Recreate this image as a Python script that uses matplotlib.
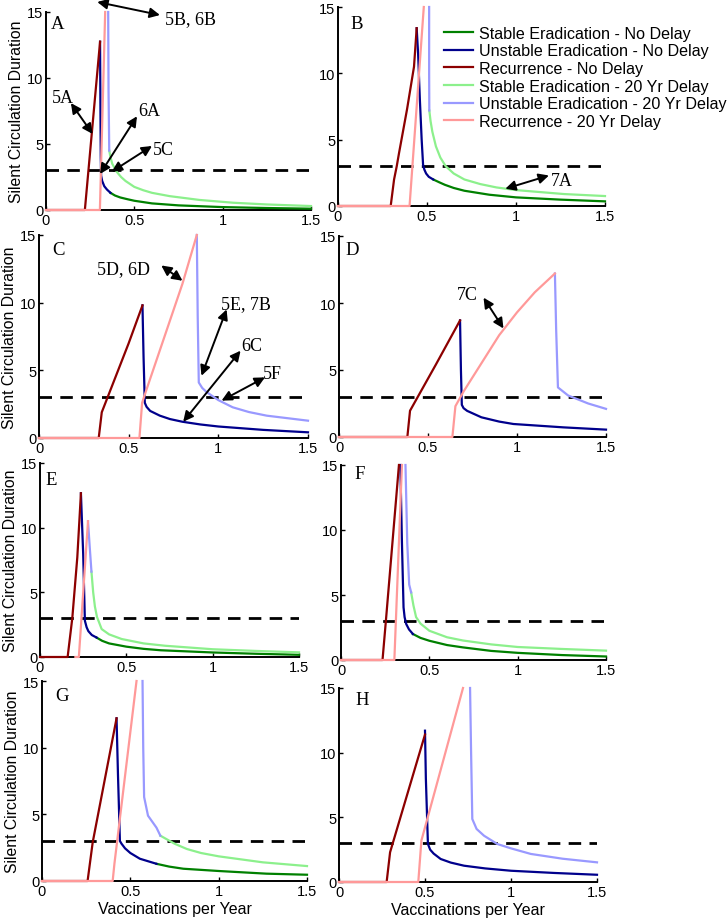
import matplotlib.pyplot as plt

# x = vaccinations per year, y = silent circulation duration
# suffix: sn/un/rn = stable/unstable/recurrence, no delay; sd/ud/rd = same, 20 yr delay
a_rn = [(0, 0), (0.22, 0), (0.306, 12.75)]
a_un = [(0.306, 12.75), (0.308, 8), (0.31, 4), (0.312, 2.6), (0.318, 2.2), (0.33, 1.8), (0.345, 1.55), (0.365, 1.3)]
a_sn = [(0.365, 1.3), (0.39, 1.1), (0.42, 0.95), (0.46, 0.82), (0.5, 0.7), (0.6, 0.5), (0.75, 0.35),
        (1.0, 0.22), (1.25, 0.15), (1.5, 0.1)]
a_rd = [(0, 0), (0.305, 0), (0.335, 15)]
a_ud = [(0.352, 15), (0.354, 9), (0.358, 4.5)]
a_sd = [(0.358, 4.5), (0.365, 4.0), (0.375, 3.5), (0.4, 2.9), (0.425, 2.5), (0.45, 2.2), (0.5, 1.75),
        (0.55, 1.5), (0.6, 1.3), (0.7, 1.05), (0.87, 0.76), (1.06, 0.55), (1.25, 0.42), (1.5, 0.3)]

b_rn = [(0, 0), (0.296, 0), (0.315, 2.0), (0.33, 3.0), (0.343, 4.0), (0.388, 7.3), (0.427, 10.5), (0.442, 13.4)]
b_un = [(0.442, 13.4), (0.45, 11.5), (0.46, 8), (0.47, 5), (0.478, 3.1), (0.485, 2.75), (0.495, 2.45),
        (0.51, 2.2), (0.535, 2.0)]
b_sn = [(0.535, 2.0), (0.57, 1.78), (0.6, 1.6), (0.65, 1.36), (0.71, 1.15), (0.85, 0.85), (1.0, 0.65),
        (1.25, 0.48), (1.5, 0.35)]
b_rd = [(0, 0), (0.402, 0), (0.482, 15)]
b_ud = [(0.512, 15), (0.512, 10), (0.513, 7.2)]
b_sd = [(0.513, 7.2), (0.52, 6.4), (0.53, 5.6), (0.55, 4.5), (0.575, 3.65), (0.605, 3.0), (0.65, 2.45),
        (0.71, 2.0), (0.8, 1.65), (0.89, 1.4), (1.0, 1.2), (1.27, 0.9), (1.5, 0.75)]

c_rn = [(0, 0), (0.333, 0), (0.35, 1.9), (0.45, 5.3), (0.5, 7.0), (0.577, 9.8)]
c_un = [(0.577, 9.8), (0.583, 6), (0.59, 2.6), (0.6, 2.3), (0.62, 2.0), (0.674, 1.65), (0.73, 1.4), (0.8, 1.2),
        (0.9, 1.0), (1.0, 0.85), (1.25, 0.6), (1.5, 0.42)]
c_rd = [(0, 0), (0.56, 0), (0.575, 2.6), (0.6, 3.6), (0.7, 7.5), (0.8, 11.4), (0.88, 15)]
c_ud = [(0.88, 15), (0.885, 9), (0.891, 4.1), (0.91, 3.7), (0.934, 3.4), (1.0, 2.8), (1.08, 2.27),
        (1.17, 1.92), (1.27, 1.65), (1.5, 1.28)]

d_rn = [(0, 0), (0.384, 0), (0.399, 1.96), (0.544, 5.4), (0.68, 8.7)]
d_un = [(0.68, 8.7), (0.685, 5), (0.69, 2.4), (0.7, 2.15), (0.72, 1.95), (0.8, 1.47), (0.9, 1.15),
        (0.98, 0.97), (1.26, 0.72), (1.5, 0.55)]
d_rd = [(0, 0), (0.637, 0), (0.654, 2.3), (0.7, 3.4), (0.8, 5.5), (0.9, 7.6), (1.0, 9.3), (1.1, 10.8),
        (1.213, 12.2)]
d_ud = [(1.213, 12.2), (1.22, 8), (1.23, 3.7), (1.287, 3.1), (1.4, 2.5), (1.5, 2.1)]

e_rn = [(0, 0), (0.16, 0), (0.187, 3), (0.216, 7.7), (0.237, 12.66)]
e_un = [(0.237, 12.66), (0.25, 8), (0.26, 2.8), (0.27, 2.3), (0.28, 2.0), (0.3, 1.7), (0.328, 1.5)]
e_sn = [(0.328, 1.5), (0.36, 1.25), (0.4, 1.05), (0.5, 0.8), (0.6, 0.63), (0.7, 0.52), (1.0, 0.35),
        (1.25, 0.25), (1.5, 0.17)]
e_rd = [(0.205, 0), (0.225, 0), (0.278, 10.5)]
e_ud = [(0.278, 10.5), (0.288, 8.5), (0.298, 6.6)]
e_sd = [(0.298, 6.6), (0.308, 5), (0.318, 3.9), (0.33, 3.1), (0.357, 2.16), (0.4, 1.75), (0.473, 1.39),
        (0.6, 1.05), (0.724, 0.87), (1.0, 0.6), (1.25, 0.47), (1.5, 0.36)]

f_rn = [(0, 0), (0.235, 0), (0.254, 3.0), (0.328, 15)]
f_un = [(0.336, 15), (0.345, 9), (0.354, 4.05), (0.36, 3.3), (0.369, 2.77), (0.385, 2.35), (0.407, 2.0)]
f_sn = [(0.407, 2.0), (0.45, 1.7), (0.5, 1.48), (0.6, 1.15), (0.69, 0.97), (0.85, 0.7), (1.0, 0.55),
        (1.25, 0.38), (1.5, 0.27)]
f_rd = [(0, 0), (0.302, 0), (0.345, 15)]
f_ud = [(0.365, 15), (0.375, 9), (0.386, 5.8), (0.397, 5.2)]
f_sd = [(0.397, 5.2), (0.41, 4.2), (0.425, 3.3), (0.45, 2.8), (0.5, 2.25), (0.6, 1.75), (0.69, 1.5),
        (0.85, 1.2), (1.0, 1.0), (1.25, 0.85), (1.5, 0.72)]

g_rn = [(0, 0), (0.258, 0), (0.287, 2.9), (0.422, 12.2)]
g_un = [(0.422, 12.2), (0.43, 8), (0.441, 3.0), (0.45, 2.8), (0.47, 2.45), (0.5, 2.1), (0.554, 1.67),
        (0.648, 1.29)]
g_sn = [(0.648, 1.29), (0.72, 1.08), (0.8, 0.92), (1.0, 0.75), (1.27, 0.55), (1.5, 0.47)]
g_rd = [(0, 0), (0.4, 0), (0.41, 1.3), (0.535, 15)]
g_ud = [(0.569, 15), (0.573, 10), (0.578, 6.3), (0.6, 4.9), (0.648, 4.0), (0.67, 3.4)]
g_sd = [(0.67, 3.4), (0.75, 2.8), (0.82, 2.4), (0.9, 2.1), (1.0, 1.85), (1.25, 1.4), (1.5, 1.12)]

h_rn = [(0, 0), (0.277, 0), (0.297, 2.3), (0.5, 11.4)]
h_un = [(0.5, 11.7), (0.505, 8), (0.517, 2.94), (0.53, 2.5), (0.55, 2.2), (0.591, 1.78), (0.65, 1.5),
        (0.727, 1.26), (0.85, 1.05), (1.0, 0.87), (1.25, 0.7), (1.5, 0.56)]
h_rd = [(0, 0), (0.461, 0), (0.479, 3.2), (0.721, 15)]
h_ud = [(0.762, 15), (0.768, 10), (0.775, 4.87), (0.8, 4.1), (0.843, 3.58), (0.92, 2.94), (1.0, 2.6),
        (1.115, 2.17), (1.3, 1.8), (1.5, 1.52)]

threshold = 3
series_names = ['Stable Eradication - No Delay', 'Unstable Eradication - No Delay', 'Recurrence - No Delay',
                'Stable Eradication - 20 Yr Delay', 'Unstable Eradication - 20 Yr Delay', 'Recurrence - 20 Yr Delay']
keys = ['sn', 'un', 'rn', 'sd', 'ud', 'rd']
colors = {'sn': '#008000', 'un': '#00008C', 'rn': '#8C0000', 'sd': '#8CF08C', 'ud': '#9999FF', 'rd': '#FF9999'}

# annotations: (label, text xy, arrow from, arrow to)
notes = {
    'A': [('5B, 6B', (0.673, 14.47), (0.29, 15.76), (0.645, 14.77)),
          ('5A', (0.032, 8.54), (0.141, 8.1), (0.264, 5.76)),
          ('6A', (0.522, 7.52), (0.306, 2.73), (0.515, 7.1)),
          ('5C', (0.607, 4.62), (0.372, 2.9), (0.6, 4.85))],
    'B': [('7A', (1.195, 1.9), (0.94, 1.3), (1.185, 2.3))],
    'C': [('5D, 6D', (0.321, 12.49), (0.682, 12.75), (0.8, 11.62)),
          ('5E, 7B', (1.014, 9.9), (0.906, 4.6), (1.046, 9.5)),
          ('6C', (1.129, 6.82), (0.804, 1.2), (1.124, 6.45)),
          ('5F', (1.25, 4.73), (1.018, 2.76), (1.26, 4.48))],
    'D': [('7C', (0.665, 10.6), (0.812, 10.4), (0.924, 8.1))],
}

panels = {
    'A': dict(rn=a_rn, un=a_un, sn=a_sn, rd=a_rd, ud=a_ud, sd=a_sd),
    'B': dict(rn=b_rn, un=b_un, sn=b_sn, rd=b_rd, ud=b_ud, sd=b_sd),
    'C': dict(rn=c_rn, un=c_un, rd=c_rd, ud=c_ud),
    'D': dict(rn=d_rn, un=d_un, rd=d_rd, ud=d_ud),
    'E': dict(rn=e_rn, un=e_un, sn=e_sn, rd=e_rd, ud=e_ud, sd=e_sd),
    'F': dict(rn=f_rn, un=f_un, sn=f_sn, rd=f_rd, ud=f_ud, sd=f_sd),
    'G': dict(rn=g_rn, un=g_un, sn=g_sn, rd=g_rd, ud=g_ud, sd=g_sd),
    'H': dict(rn=h_rn, un=h_un, rd=h_rd, ud=h_ud),
}

# axes boxes in pixels: left, top, right, bottom
boxes = {'A': (46, 13, 311, 211), 'B': (338, 8, 605, 207),
         'C': (39, 236, 308, 439), 'D': (339, 237, 606, 438),
         'E': (40, 464, 299, 658), 'F': (341, 466, 606, 661),
         'G': (42, 682, 307, 882), 'H': (339, 689, 597, 883)}
letter_pos = {'A': (0.02, 0.94), 'B': (0.045, 0.915), 'C': (0.05, 0.93), 'D': (0.026, 0.935),
              'E': (0.022, 0.917), 'F': (0.05, 0.954), 'G': (0.05, 0.926), 'H': (0.065, 0.943)}

W, H = 728, 920
plt.rcParams['font.family'] = ['Liberation Sans', 'DejaVu Sans']
fig = plt.figure(figsize=(W / 100, H / 100), dpi=100)

arrow_style = '<|-|>,head_length=0.5,head_width=0.25'
legend_handles = {}
for name, (l, t, r, b) in boxes.items():
    ax = fig.add_axes([l / W, (H - b) / H, (r - l) / W, (b - t) / H])
    ax.plot([0, 1.5], [threshold, threshold], color='k', lw=2, dashes=(4.5, 3), zorder=3)
    for k in keys:
        if k not in panels[name]:
            continue
        xs = [p[0] for p in panels[name][k]]
        ys = [p[1] for p in panels[name][k]]
        ln, = ax.plot(xs, ys, color=colors[k], lw=1.6, clip_on=False, zorder=3,
                      solid_joinstyle='round')
        if name == 'B':
            legend_handles[k] = ln
    ax.set_xlim(0, 1.5)
    ax.set_ylim(0, 15)
    ax.set_xticks([0, 0.5, 1, 1.5])
    ax.set_xticklabels(['0', '0.5', '1', '1.5'])
    ax.set_yticks([0, 5, 10, 15])
    for s in ['top', 'right']:
        ax.spines[s].set_visible(False)
    for s in ['left', 'bottom']:
        ax.spines[s].set_linewidth(1.4)
    ax.tick_params(direction='in', length=3, width=1, labelsize=10.5, pad=2)
    ax.text(*letter_pos[name], name, transform=ax.transAxes, family='Liberation Serif',
            fontsize=13.5, va='center', ha='left')
    if name in 'ACEG':
        ax.set_ylabel('Silent Circulation Duration', fontsize=11.3, labelpad=2)
    if name in 'GH':
        ax.set_xlabel('Vaccinations per Year', fontsize=11.5, labelpad=2.5)
    for label, txy, a0, a1 in notes.get(name, []):
        ax.annotate('', xy=a1, xytext=a0, annotation_clip=False,
                    arrowprops=dict(arrowstyle=arrow_style, color='k', lw=1.4,
                                    mutation_scale=12, shrinkA=0, shrinkB=0))
        ax.text(txy[0], txy[1], label, family='Liberation Serif', fontsize=13,
                va='center', ha='left', clip_on=False)
    if name == 'B':
        ax_b = ax

ax_b.legend([legend_handles[k] for k in keys], series_names, loc='upper left',
            bbox_to_anchor=(0.397, 0.905), frameon=False, fontsize=11.6,
            handlelength=1.8, handletextpad=0.35, labelspacing=0.16,
            borderpad=0, borderaxespad=0)

fig.savefig('out.png', dpi=100)
